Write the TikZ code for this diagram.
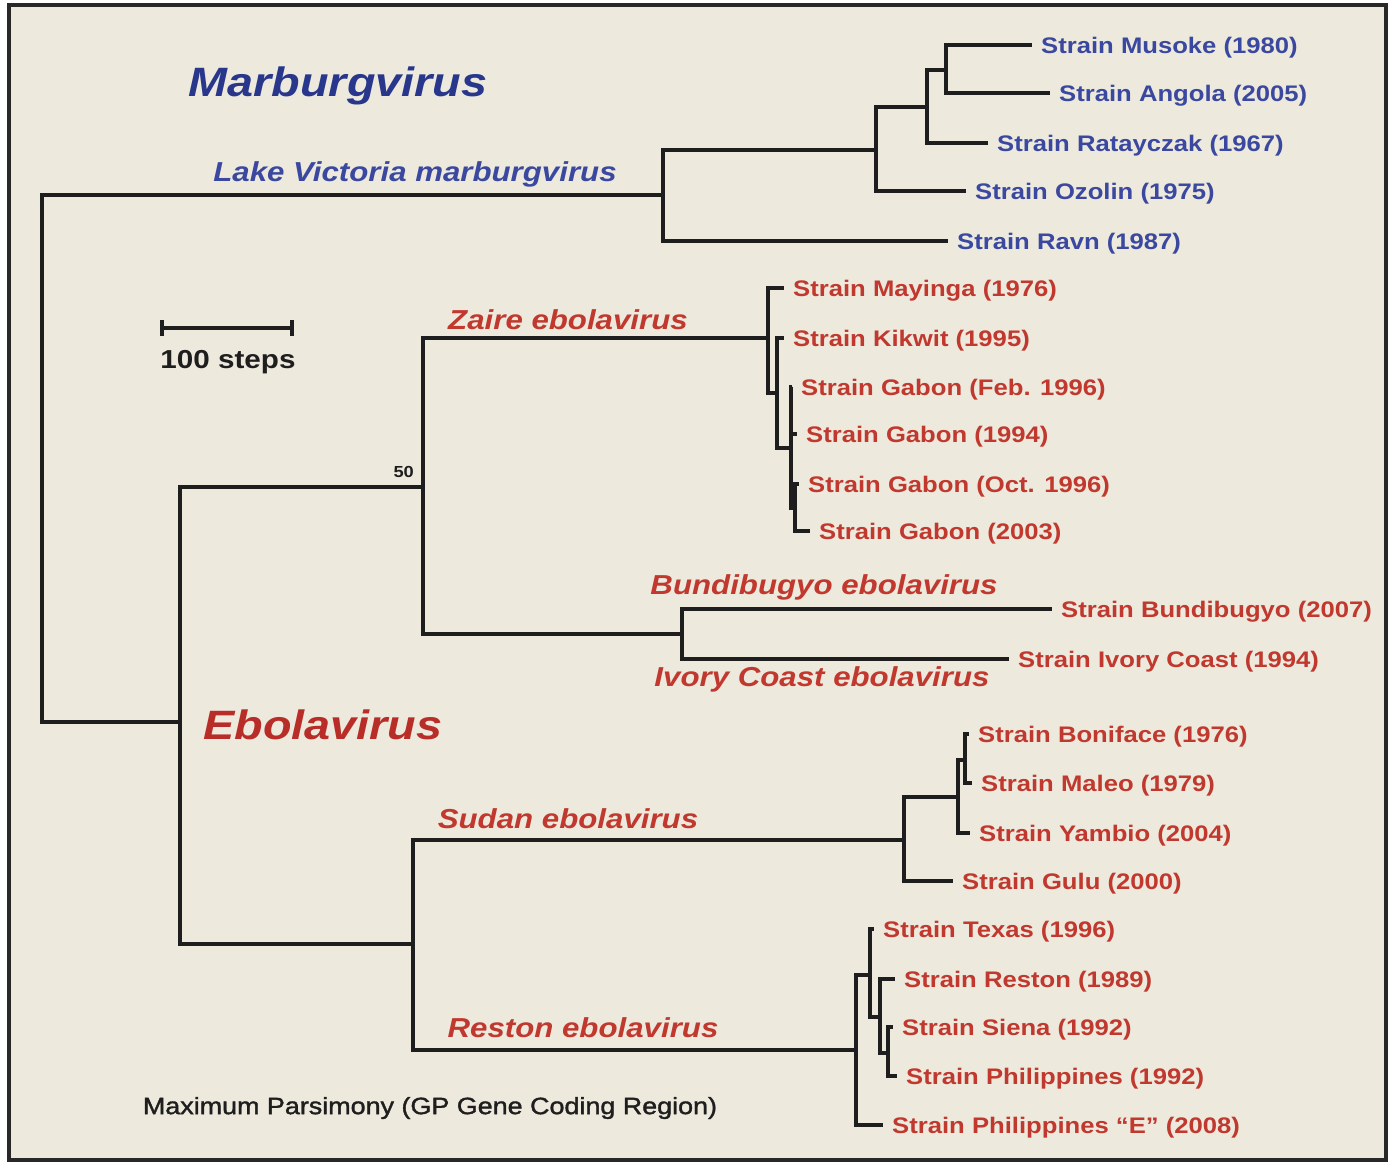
\documentclass[tikz,border=0pt]{standalone}
\usepackage{fontspec}
\setmainfont{Liberation Sans}[FakeStretch=1.14]
\newfontfamily\captionfont{Liberation Sans}[FakeStretch=1.14, FakeBold=1.5]
\usepackage{tikz}
\definecolor{panel}{RGB}{237,233,221}
\definecolor{framegray}{RGB}{40,40,40}
\definecolor{treeline}{RGB}{30,30,30}
\definecolor{mblue}{RGB}{58,72,160}
\definecolor{mdark}{RGB}{40,55,140}
\definecolor{ered}{RGB}{192,56,46}
\definecolor{edark}{RGB}{185,45,40}

\begin{document}
\begin{tikzpicture}
[x=1pt, y=-1pt, every node/.style={inner sep=0pt},
 branch/.style={line width=3.4pt, draw=treeline, line join=miter},
 mstrain/.style={anchor=west, inner xsep=9pt, text height=16pt, text depth=0pt, text=mblue, font=\fontsize{22.5}{26}\selectfont\bfseries},
 estrain/.style={mstrain, text=ered},
 species/.style={font=\fontsize{27.4}{32}\selectfont\bfseries\itshape},
 genus/.style={font=\fontsize{41}{48}\selectfont\bfseries\itshape}]
\useasboundingbox (0,0) rectangle (1396,1167);
\draw [line width=4pt, draw=framegray, fill=panel] (9,5) rectangle (1386,1160);

\coordinate (root) at (42,458);
\coordinate (mb) at (663,195);
\coordinate (m1) at (876,150);
\coordinate (m2) at (927,107);
\coordinate (m3) at (946,70);
\coordinate (eb) at (180,722);
\coordinate (zb) at (423,487);
\coordinate (za) at (768,338);
\coordinate (za2) at (777,393);
\coordinate (gab) at (791,448);
\coordinate (gab2) at (795,508);
\coordinate (bi) at (682,634);
\coordinate (sr) at (413,944);
\coordinate (su) at (904,840);
\coordinate (su2) at (958,797);
\coordinate (su3) at (965,760);
\coordinate (re) at (856,1050);
\coordinate (re2) at (870,975);
\coordinate (re3) at (880,1017);
\coordinate (re4) at (888,1053);

\node (musoke) [mstrain] at (1032,45) {Strain Musoke (1980)};
\node (angola) [mstrain] at (1050,93) {Strain Angola (2005)};
\node (ratayczak) [mstrain] at (988,143) {Strain Ratayczak (1967)};
\node (ozolin) [mstrain] at (966,191) {Strain Ozolin (1975)};
\node (ravn) [mstrain] at (948,241) {Strain Ravn (1987)};
\node (mayinga) [estrain] at (784,288) {Strain Mayinga (1976)};
\node (kikwit) [estrain] at (784,338) {Strain Kikwit (1995)};
\node (feb) [estrain] at (792,387) {Strain Gabon (Feb. 1996)};
\node (g94) [estrain] at (797,434) {Strain Gabon (1994)};
\node (oct) [estrain] at (799,484) {Strain Gabon (Oct. 1996)};
\node (g03) [estrain] at (810,531) {Strain Gabon (2003)};
\node (bundi) [estrain] at (1052,609) {Strain Bundibugyo (2007)};
\node (ivory) [estrain] at (1009,659) {Strain Ivory Coast (1994)};
\node (boniface) [estrain] at (969,734) {Strain Boniface (1976)};
\node (maleo) [estrain] at (972,783) {Strain Maleo (1979)};
\node (yambio) [estrain] at (970,833) {Strain Yambio (2004)};
\node (gulu) [estrain] at (953,881) {Strain Gulu (2000)};
\node (texas) [estrain] at (874,929) {Strain Texas (1996)};
\node (reston) [estrain] at (895,979) {Strain Reston (1989)};
\node (siena) [estrain] at (893,1027) {Strain Siena (1992)};
\node (phil) [estrain] at (897,1076) {Strain Philippines (1992)};
\node (phile) [estrain] at (883,1125) {Strain Philippines “E” (2008)};

\draw [branch] (root) |- (mb);
\draw [branch] (root) |- (eb);
\draw [branch] (mb) |- (m1);
\draw [branch] (mb) |- (ravn.west);
\draw [branch] (m1) |- (m2);
\draw [branch] (m1) |- (ozolin.west);
\draw [branch] (m2) |- (m3);
\draw [branch] (m2) |- (ratayczak.west);
\draw [branch] (m3) |- (musoke.west);
\draw [branch] (m3) |- (angola.west);
\draw [branch] (eb) |- (zb);
\draw [branch] (eb) |- (sr);
\draw [branch] (zb) |- (za);
\draw [branch] (zb) |- (bi);
\draw [branch] (za) |- (mayinga.west);
\draw [branch] (za) |- (za2);
\draw [branch] (za2) |- (kikwit.west);
\draw [branch] (za2) |- (gab);
\draw [branch] (gab) |- (feb.west);
\draw [branch] (gab) |- (g94.west);
\draw [branch] (gab) |- (gab2);
\draw [branch] (gab2) |- (oct.west);
\draw [branch] (gab2) |- (g03.west);
\draw [branch] (bi) |- (bundi.west);
\draw [branch] (bi) |- (ivory.west);
\draw [branch] (sr) |- (su);
\draw [branch] (sr) |- (re);
\draw [branch] (su) |- (su2);
\draw [branch] (su) |- (gulu.west);
\draw [branch] (su2) |- (su3);
\draw [branch] (su2) |- (yambio.west);
\draw [branch] (su3) |- (boniface.west);
\draw [branch] (su3) |- (maleo.west);
\draw [branch] (re) |- (re2);
\draw [branch] (re) |- (phile.west);
\draw [branch] (re2) |- (texas.west);
\draw [branch] (re2) |- (re3);
\draw [branch] (re3) |- (reston.west);
\draw [branch] (re3) |- (re4);
\draw [branch] (re4) |- (siena.west);
\draw [branch] (re4) |- (phil.west);

\node (boot) [anchor=south east, font=\fontsize{16}{18}\selectfont\bfseries, text=treeline] at ([xshift=-9pt, yshift=9pt]zb) {50};

\node (marburg) [genus, text=mdark] at (338,86) {Marburgvirus};
\node (ebola) [genus, text=edark] at (323,725) {Ebolavirus};
\node (lakevic) [species, text=mblue] at (415,174) {Lake Victoria marburgvirus};
\node (zaire) [species, text=ered] at (568,320) {Zaire ebolavirus};
\node (bundibugyo) [species, text=ered] at (824,587) {Bundibugyo ebolavirus};
\node (ivorycoast) [species, text=ered] at (822,679) {Ivory Coast ebolavirus};
\node (sudan) [species, text=ered] at (568,819) {Sudan ebolavirus};
\node (restonsp) [species, text=ered] at (583,1028) {Reston ebolavirus};

\coordinate (barl) at (162,328);
\coordinate (barr) at (292,328);
\draw [branch] (barl) -- (barr);
\draw [branch] ([yshift=8pt]barl) -- ([yshift=-8pt]barl);
\draw [branch] ([yshift=8pt]barr) -- ([yshift=-8pt]barr);
\node (steps) [font=\fontsize{26}{30}\selectfont\bfseries, text=treeline] at (228,362) {100 steps};

\node (caption) [font=\fontsize{23.6}{28}\captionfont, text=treeline] at (430,1108) {Maximum Parsimony (GP Gene Coding Region)};
\end{tikzpicture}
\end{document}
